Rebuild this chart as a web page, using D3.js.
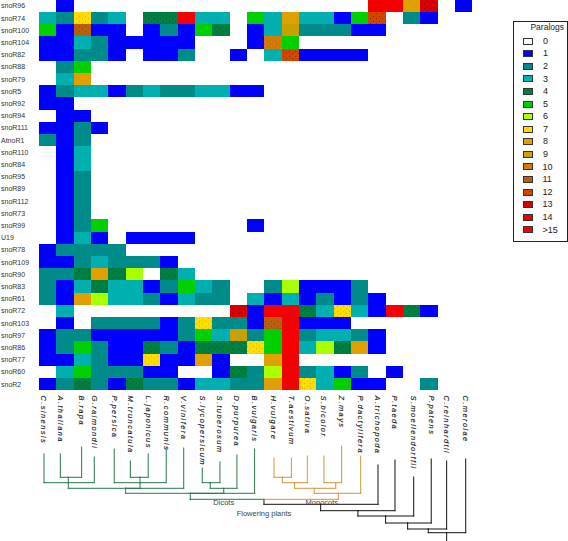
<!DOCTYPE html>
<html><head><meta charset="utf-8">
<script src="https://cdn.jsdelivr.net/npm/d3@7"></script>
<style>
html,body{margin:0;padding:0;background:#fff;overflow:hidden}
svg{display:block}
text{font-family:"Liberation Sans",Arial,sans-serif}
.gray{opacity:.995}
</style></head><body>
<svg id="c" width="568" height="541"></svg>
<script>
const families = ["snoR96","snoR74","snoR100","snoR104","snoR82","snoR88","snoR79","snoR5","snoR92","snoR94","snoR111","AtnoR1","snoR110","snoR84","snoR95","snoR89","snoR112","snoR73","snoR99","U19","snoR78","snoR109","snoR90","snoR83","snoR61","snoR72","snoR103","snoR97","snoR86","snoR77","snoR60","snoR2"];
const species = ["C.sinensis","A.thaliana","B.rapa","G.raimondii","P.persica","M.truncatula","L.japonicus","R.communis","V.vinifera","S.lycopersicum","S.tuberosum","D.purpurea","B.vulgaris","H.vulgare","T.aestivum","O.sativa","S.bicolor","Z.mays","P.dactylifera","A.trichopoda","P.taeda","S.moellendorffii","P.patens","C.reinhardtii","C.merolae"];
// paralog counts per family, species order as above (15 = ">15"); short rows are zero afterwards
const counts = [
[0,1,0,0,0,0,0,0,0,0,0,0,0,0,0,0,0,0,0,15,15,8,13,0,1],
[3,2,7,2,3,0,4,4,15,3,3,0,5,3,8,3,3,1,5,12,0,2,1],
[5,1,11,1,1,0,1,2,1,5,4,0,1,3,9,2,2,2,1,1],
[1,1,3,2,1,1,1,1,1,0,0,0,1,10,5],
[1,1,2,2,1,0,1,1,2,0,0,1,0,3,12,1,1,1,1],
[0,2,5],
[0,3,8],
[1,2,3,3,1,2,3,2,2,3,3,1,1],
[1,1],
[0,1,1],
[1,1,2,1],
[2,1,2],
[0,1,3],
[0,1,3],
[0,1,2],
[0,1,2],
[0,1,2],
[0,1,2],
[0,1,2,5,0,0,0,0,0,0,0,0,1],
[0,1,3,1,0,1,1,1,1],
[1,2,2,2,2],
[1,1,2,3,2,2,2,1],
[2,2,4,8,4,6,0,4,3],
[2,1,3,4,3,3,1,2,5,3,2,0,0,2,6,1,1,1,2],
[2,1,8,6,3,3,2,1,3,2,2,0,3,1,3,1,2,1,2,1],
[0,3,0,0,0,0,0,0,0,0,0,13,1,15,15,4,3,7,3,1,15,4,1],
[0,1,0,2,2,2,2,1,2,7,2,2,1,11,15,1,1,1],
[1,2,2,1,1,1,1,1,2,5,3,9,2,5,15,2,3,3,2,1],
[1,2,5,2,1,1,4,2,1,4,4,4,7,5,15,3,6,4,8,1],
[1,1,3,2,1,1,7,1,1,8,1,0,0,8,15],
[0,3,5,2,2,2,1,1,0,0,1,4,2,6,15,2,3,1,2,0,1],
[1,2,4,2,1,4,2,2,1,3,3,2,2,8,15,7,3,5,1,1,0,0,2]
];
const legendLabels = ["0","1","2","3","4","5","6","7","8","9","10","11","12","13","14",">15"];
const paletteColors = ["#ffffff","#0000ff","#008b8b","#00b0b0","#008040","#00d000","#a8ff00","#ffdd00","#e0a000","#c8a000","#d07800","#b86010","#d04800","#d80000","#e80000","#f40000"];
// leaf position along the column axis (in column units) and leaf tip age
const tipPositions = [-0.21,0.73,1.96,2.69,3.84,4.77,5.80,6.84,7.85,8.92,9.94,10.92,11.94,13.06,14.06,14.98,15.94,16.96,18.06,19.06,20.04,21.12,22.13,23.02,24.12];
const tipAges = [87,87,94,84,92,80,87,92,93,73,79,86,92,83,83,85,85,95,85,76,81,64,82,80,82];
// phylogeny: [age, stem position, clade, children]; numbers are species indices
const dicots = [41.7,8.23,"dicot",[
  [47.7,8.23,"dicot",[
    [52.7,4.50,"dicot",[
      [58.3,1.19,"dicot",[0,[63.7,1.19,"dicot",[1,2]],3]],
      [58.3,5.33,"dicot",[4,[63.7,5.33,"dicot",[5,6]],7]],
      8]],
    [52.7,10.16,"dicot",[[58.3,9.38,"dicot",[9,10]],11]],
    12]]]];
const monocots = [47.7,16.77,"monocot",[
  [52.7,15.38,"monocot",[
    [58.3,14.25,"monocot",[[63.7,13.54,"monocot",[13,14]],15]],
    [58.3,16.62,"monocot",[16,17]]]],
  18]];
const treeRoot = [8.3,23.02,"basal",[
  [12,21.96,"basal",[
    [18,20.77,"basal",[
      [25,19.5,"basal",[
        [30.3,17.9,"basal",[
          [36.7,15.75,"basal",[
            [41.7,12.48,"basal",[dicots,monocots]],
            19]],
          20]],
        21]],
      22]],
    23]],
  24]];
const cladeNames = ["dicot","monocot","basal"];
const cladeColors = ["#27794a","#c8983c","#111111"];
const cladeLabels = ["Dicots","Monocots","Flowering plants"];
const cladeLabelPositions = [10.16,15.82,12.48];
const cladeLabelAges = [36.3,36.5,25.5];

const svg = d3.select("#c");
const x = d3.scaleBand().domain(d3.range(species.length)).range([39,472.3]);
const y = d3.scaleBand().domain(families).range([-0.2,390.2]);
const treeX = d3.scaleLinear().domain([0,24]).range([x(0)+x.bandwidth()/2, x(24)+x.bandwidth()/2]);
const treeY = d3.scaleLinear().domain([0,100]).range([541,441]);
const color = d3.scaleOrdinal().domain(d3.range(16)).range(paletteColors);
const cladeColor = d3.scaleOrdinal().domain(cladeNames).range(cladeColors);

// dither texture seen on some colours
const ditherDots = {4:"#00602e",7:"#e8a800",10:"#e89800",11:"#8a4800",12:"#802800",13:"#800000"};
const defs = svg.append("defs");
Object.entries(ditherDots).forEach(([k,dot])=>{
  const p = defs.append("pattern").attr("id","d"+k).attr("patternUnits","userSpaceOnUse").attr("width",6).attr("height",5);
  p.append("rect").attr("width",6).attr("height",5).attr("fill",color(+k));
  p.append("rect").attr("x",1).attr("y",1).attr("width",1).attr("height",1).attr("fill",dot).attr("opacity",.8);
  p.append("rect").attr("x",4).attr("y",3).attr("width",1).attr("height",1).attr("fill",dot).attr("opacity",.8);
});
const fillFor = v => ditherDots[v] ? `url(#d${v})` : color(v);

// heat map
const cells = [];
counts.forEach((row,r)=>row.forEach((v,c)=>{ if(v>0) cells.push({r,c,v}); }));
svg.append("g").selectAll("rect").data(cells).join("rect")
  .attr("x",d=>x(d.c)).attr("y",d=>y(families[d.r]))
  .attr("width",x.bandwidth()).attr("height",y.bandwidth())
  .attr("fill",d=>fillFor(d.v)).attr("shape-rendering","crispEdges");

// row labels
svg.append("g").attr("class","gray").selectAll("text").data(families).join("text")
  .attr("x",1).attr("y",d=>y(d)+y.bandwidth()/2+2.4)
  .attr("font-size",7).attr("fill","#333").text(d=>d);

// column labels
svg.append("g").attr("class","gray").selectAll("text").data(species).join("text")
  .attr("transform",(d,i)=>`translate(${treeX(tipPositions[i])-2.6},395.5) rotate(90)`)
  .attr("font-size",7.5).attr("font-style","italic").attr("letter-spacing",1.4)
  .attr("fill","#111").attr("stroke","#111").attr("stroke-width",.12).text(d=>d);

// tree
const segs = [];
function walk(node){
  const [age,pos,clade,kids] = node;
  kids.forEach(k=>{
    const leaf = typeof k === "number";
    const kidPos = leaf ? tipPositions[k] : k[1];
    const kidClade = leaf ? clade : k[2];
    segs.push({x1:pos,x2:kidPos,a1:age,a2:age,clade:kidClade});
    segs.push({x1:kidPos,x2:kidPos,a1:age,a2:leaf ? tipAges[k] : k[0],clade:kidClade});
    if(!leaf) walk(k);
  });
}
walk(treeRoot);
segs.push({x1:treeRoot[1],x2:treeRoot[1],a1:0,a2:treeRoot[0],clade:"basal"});
svg.append("g").selectAll("line").data(segs).join("line")
  .attr("x1",d=>treeX(d.x1)).attr("x2",d=>treeX(d.x2))
  .attr("y1",d=>treeY(d.a1)).attr("y2",d=>treeY(d.a2))
  .attr("stroke",d=>cladeColor(d.clade)).attr("stroke-width",1).attr("stroke-linecap","square");

// clade labels
svg.append("g").attr("class","gray").selectAll("text").data(cladeLabels).join("text")
  .attr("x",(d,i)=>treeX(cladeLabelPositions[i])).attr("y",(d,i)=>treeY(cladeLabelAges[i]))
  .attr("text-anchor","middle").attr("font-size",7.5).attr("fill","#444").text(d=>d);

// legend
const legendY = d3.scalePoint().domain(legendLabels).range([40.7,229.3]);
const lg = svg.append("g").attr("class","gray");
lg.append("rect").attr("x",513.5).attr("y",21.5).attr("width",54).attr("height",220)
  .attr("fill","#fff").attr("stroke","#222").attr("stroke-width",1);
lg.append("text").attr("x",564).attr("y",30).attr("text-anchor","end").attr("font-size",8.5).attr("fill","#222").text("Paralogs");
lg.selectAll("rect.s").data(legendLabels).join("rect").attr("class","s")
  .attr("x",523.5).attr("y",d=>Math.round(legendY(d)-3)+.5).attr("width",9).attr("height",6)
  .attr("fill",(d,i)=>fillFor(i)).attr("stroke","#333").attr("stroke-width",1);
lg.selectAll("text.l").data(legendLabels).join("text").attr("class","l")
  .attr("x",d=>d.length>1?542.5:543).attr("y",d=>legendY(d)+3.2)
  .attr("font-size",9).attr("fill","#222").text(d=>d);
</script>
</body></html>
